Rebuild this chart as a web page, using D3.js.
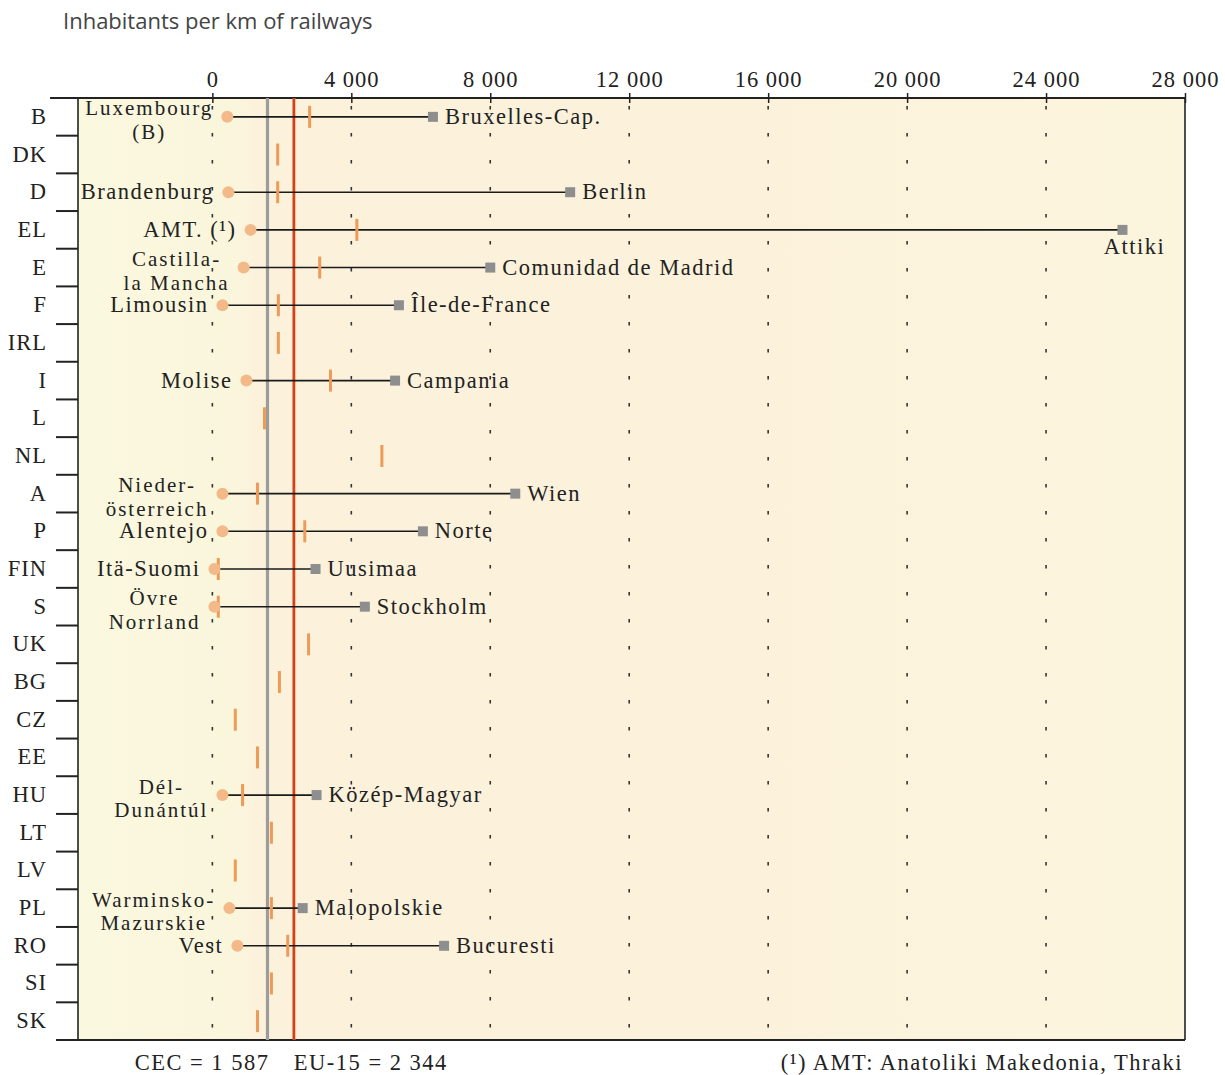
<!DOCTYPE html>
<html><head><meta charset="utf-8">
<script src="https://cdn.jsdelivr.net/npm/d3@7"></script>
<style>
html,body{margin:0;padding:0;background:#fff;}
svg{display:block;}
.serif{font-family:"Liberation Serif","Times New Roman",serif;fill:#222;}
</style></head>
<body>
<svg id="chart" width="1225" height="1075"></svg>
<script>
const categories = ["B","DK","D","EL","E","F","IRL","I","L","NL","A","P","FIN","S","UK","BG","CZ","EE","HU","LT","LV","PL","RO","SI","SK"];
const nationalAvg = [2800,1880,1880,4160,3090,1900,1900,3400,1500,4880,1300,2660,170,170,2770,1930,660,1300,870,1700,660,1700,2170,1700,1300];
const minRegionValue = [430,null,460,1100,900,290,null,980,null,null,290,290,60,60,null,null,null,null,290,null,null,490,720,null,null];
const maxRegionValue = [6350,null,10300,26200,8000,5370,null,5260,null,null,8720,6060,2970,4390,null,null,null,null,3000,null,null,2600,6670,null,null];
const minRegionName = [["Luxembourg","(B)"],null,["Brandenburg"],["AMT. (¹)"],["Castilla-","la Mancha"],["Limousin"],null,["Molise"],null,null,["Nieder-","österreich"],["Alentejo"],["Itä-Suomi"],["Övre","Norrland"],null,null,null,null,["Dél-","Dunántúl"],null,null,["Warminsko-","Mazurskie"],["Vest"],null,null];
const maxRegionName = ["Bruxelles-Cap.",null,"Berlin","Attiki","Comunidad de Madrid","Île-de-France",null,"Campania",null,null,"Wien","Norte","Uusimaa","Stockholm",null,null,null,null,"Közép-Magyar",null,null,"Malopolskie","Bucuresti",null,null];
const xTicks = [0,4000,8000,12000,16000,20000,24000,28000];
const CEC = 1587, EU15 = 2344;
const titleText = "Inhabitants per km of railways";
const footnote = "(¹) AMT: Anatoliki Makedonia, Thraki";

const svg = d3.select("#chart");
const frame = {left:78, right:1185, top:98, bottom:1040};
const x = d3.scaleLinear().range([frame.left, frame.right]);
x.domain([ (frame.left-212)/((1182-212)/28000), 28000 ]);
const y = d3.scaleBand().domain(categories).range([frame.top, frame.bottom]);
const fs = 22.5, ls = "1.5px";
const fs2 = 21, ls2 = "2px";

// background
const defs = svg.append("defs");
const grad = defs.append("linearGradient").attr("id","bg").attr("x1","0").attr("x2","1").attr("y1","0").attr("y2","0");
grad.append("stop").attr("offset","0").attr("stop-color","#faf8df");
grad.append("stop").attr("offset","0.14").attr("stop-color","#faf6dc");
grad.append("stop").attr("offset","0.16").attr("stop-color","#fcf2dc");
grad.append("stop").attr("offset","0.6").attr("stop-color","#fcf2dc");
grad.append("stop").attr("offset","1").attr("stop-color","#fcf5de");
svg.append("rect").attr("x",frame.left).attr("y",frame.top).attr("width",frame.right-frame.left).attr("height",frame.bottom-frame.top).attr("fill","url(#bg)");

// title
svg.append("text").attr("x",63).attr("y",29).attr("font-family","'Open Sans',sans-serif").attr("font-size",22).attr("fill","#444").text(titleText);

// dotted grid
svg.append("g").selectAll("line").data(xTicks.filter(d=>d<28000)).join("line")
  .attr("x1",d=>x(d)).attr("x2",d=>x(d)).attr("y1",frame.top+8).attr("y2",frame.bottom)
  .attr("stroke","#333").attr("stroke-width",1.6).attr("stroke-dasharray","3.5,23.5");

// top axis
const axis = d3.axisTop(x).tickValues(xTicks).tickSize(5).tickSizeOuter(0);
const gA = svg.append("g").attr("transform",`translate(0,${frame.top})`).call(axis);
gA.select(".domain").remove();
gA.selectAll(".tick line").attr("stroke","#222").attr("stroke-width",1.5).attr("y2",5).attr("y1",-5);
gA.selectAll(".tick text").attr("class","serif").attr("font-size",fs).attr("letter-spacing","1px").attr("y",-11).attr("fill","#222")
  .text(d=>d===0?"0":d3.format(",")(d).replace(/,/g," "));
svg.append("line").attr("x1",50).attr("x2",frame.right).attr("y1",frame.top).attr("y2",frame.top).attr("stroke","#222").attr("stroke-width",2);

// frame
svg.append("line").attr("x1",frame.left).attr("x2",frame.left).attr("y1",frame.top).attr("y2",frame.bottom).attr("stroke","#222").attr("stroke-width",1.6);
svg.append("line").attr("x1",frame.right).attr("x2",frame.right).attr("y1",frame.top).attr("y2",frame.bottom).attr("stroke","#222").attr("stroke-width",1.6);
svg.append("line").attr("x1",56).attr("x2",frame.right).attr("y1",frame.bottom).attr("y2",frame.bottom).attr("stroke","#222").attr("stroke-width",2);

// row separators on left
svg.append("g").selectAll("line").data(categories.slice(1)).join("line")
  .attr("x1",56).attr("x2",frame.left).attr("y1",d=>y(d)).attr("y2",d=>y(d)).attr("stroke","#222").attr("stroke-width",2);

// category labels
svg.append("g").selectAll("text").data(categories).join("text").attr("class","serif")
  .attr("x",47).attr("y",d=>y(d)+y.bandwidth()/2+7).attr("text-anchor","end").attr("font-size",fs).attr("letter-spacing","1px").text(d=>d);

// reference lines
svg.append("line").attr("x1",x(CEC)).attr("x2",x(CEC)).attr("y1",frame.top).attr("y2",frame.bottom).attr("stroke","#9c9c9c").attr("stroke-width",3.2);
svg.append("line").attr("x1",x(EU15)+1).attr("x2",x(EU15)+1).attr("y1",frame.top).attr("y2",frame.bottom).attr("stroke","#f0a040").attr("stroke-width",1.2);
svg.append("line").attr("x1",x(EU15)).attr("x2",x(EU15)).attr("y1",frame.top).attr("y2",frame.bottom).attr("stroke","#d2401c").attr("stroke-width",2.6);

const rows = categories.map((c,i)=>({c, avg:nationalAvg[i], mn:minRegionValue[i], mx:maxRegionValue[i], mnName:minRegionName[i], mxName:maxRegionName[i], cy:y(c)+y.bandwidth()/2}));
const ranged = rows.filter(r=>r.mn!=null);

svg.append("g").selectAll("line").data(ranged).join("line")
  .attr("x1",r=>x(r.mn)).attr("x2",r=>x(r.mx)).attr("y1",r=>r.cy).attr("y2",r=>r.cy).attr("stroke","#1a1a1a").attr("stroke-width",1.6);
svg.append("g").selectAll("line").data(rows).join("line")
  .attr("x1",r=>x(r.avg)).attr("x2",r=>x(r.avg)).attr("y1",r=>r.cy-11).attr("y2",r=>r.cy+11).attr("stroke","#ee9a58").attr("stroke-width",3);
svg.append("g").selectAll("circle").data(ranged).join("circle")
  .attr("cx",r=>x(r.mn)).attr("cy",r=>r.cy).attr("r",6).attr("fill","#f4b988");
svg.append("g").selectAll("rect").data(ranged).join("rect")
  .attr("x",r=>x(r.mx)-5).attr("y",r=>r.cy-5).attr("width",10).attr("height",10).attr("fill","#8e8e8e");

// min labels
ranged.forEach(r=>{
  const g = svg.append("g");
  const lines = r.mnName;
  const multi = lines.length > 1;
  const ts = lines.map(t=>g.append("text").attr("class","serif").attr("font-size",multi?fs2:fs).attr("letter-spacing",multi?ls2:ls).text(t));
  const wmax = d3.max(ts, t=>t.node().getComputedTextLength());
  const right = x(r.mn) - 14;
  const cx = right - wmax/2;
  const y0 = multi ? r.cy-1.5 : r.cy+7;
  ts.forEach((t,k)=>t.attr("text-anchor","middle").attr("x",cx).attr("y",y0+k*23.5));
});
// max labels
ranged.forEach(r=>{
  const px = x(r.mx);
  const t = svg.append("text").attr("class","serif").attr("font-size",fs).attr("letter-spacing",ls).text(r.mxName);
  if (px > frame.right - 150) {
    t.attr("text-anchor","middle").attr("x",px+12).attr("y",r.cy+24);
  } else {
    t.attr("x",px+12).attr("y",r.cy+7);
  }
});

// bottom texts
svg.append("text").attr("class","serif").attr("font-size",fs).attr("letter-spacing",ls).attr("text-anchor","end").attr("x",x(CEC)+2).attr("y",1070).text("CEC = 1 587");
svg.append("text").attr("class","serif").attr("font-size",fs).attr("letter-spacing",ls).attr("x",x(EU15)).attr("y",1070).text("EU-15 = 2 344");
svg.append("text").attr("class","serif").attr("font-size",fs).attr("letter-spacing",ls).attr("text-anchor","end").attr("x",1183).attr("y",1070).text(footnote);
</script>
</body></html>
